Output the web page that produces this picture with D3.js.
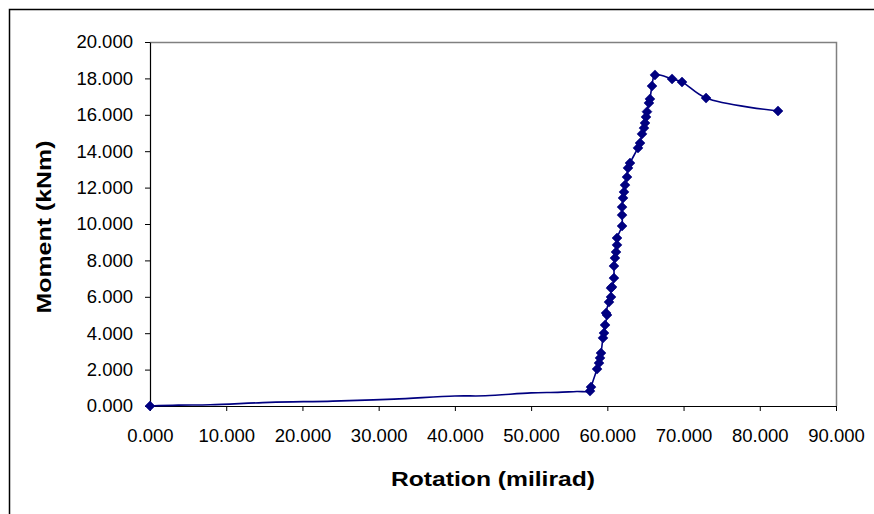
<!DOCTYPE html>
<html lang="en">
<head>
<meta charset="UTF-8">
<style>
  body, html { margin: 0; padding: 0; background: #fff; overflow: hidden; }
  svg { display: block; }
  text { font-family: "Liberation Sans", Arial, sans-serif; fill: #000; }
</style>
</head>
<body>
<svg id="svg" width="874" height="514"></svg>
<script src="https://d3js.org/d3.v7.min.js"></script>
<script>
// loaded points (with markers), rotation in milirad, moment in kNm
const rotation = [0.00, 57.73, 57.86, 58.65, 58.91, 59.04, 59.17, 59.43, 59.56, 59.70, 59.96, 59.83,
  60.22, 60.48, 60.48, 60.61, 60.87, 60.87, 61.00, 61.14, 61.27, 61.27, 61.93, 61.93, 61.93,
  62.06, 62.19, 62.32, 62.58, 62.71, 62.97, 64.02, 64.29, 64.55, 64.81, 64.94, 65.07, 65.20,
  65.46, 65.59, 65.86, 66.25, 68.49, 69.80, 72.95, 82.39]
const moment = [0.000, 0.820, 1.040, 2.030, 2.360, 2.640, 2.910, 3.740, 4.010, 4.450, 5.000, 5.110,
  5.710, 5.990, 6.480, 6.540, 7.030, 7.690, 8.130, 8.460, 8.850, 9.230, 9.890, 10.490, 10.930,
  11.430, 11.760, 12.140, 12.580, 13.080, 13.350, 14.180, 14.450, 14.950, 15.270, 15.550, 15.880, 16.170,
  16.650, 16.870, 17.580, 18.190, 17.970, 17.800, 16.920, 16.210]

// early part of the curve, drawn as line only
const creepRotation = [3.7, 7.9, 15.7, 24.0, 32.0, 40.0, 44.0, 50.0, 53.5, 56.0]
const creepMoment = [0.05, 0.07, 0.20, 0.27, 0.38, 0.55, 0.56, 0.72, 0.75, 0.80]

const xTicks = [0, 10, 20, 30, 40, 50, 60, 70, 80, 90]
const yTicks = [0, 2, 4, 6, 8, 10, 12, 14, 16, 18, 20]

const xTitle = 'Rotation (milirad)'
const yTitle = 'Moment (kNm)'

const color = '#000080'
const svg = d3.select('#svg')

// outer chart frame (runs past the picture on right and bottom)
svg.append('rect')
  .attr('x', 9.5).attr('y', 9.5)
  .attr('width', 1000).attr('height', 1000)
  .attr('fill', 'none').attr('stroke', '#000').attr('stroke-width', 1.5)

const plot = { left: 150, right: 836, top: 42, bottom: 406 }

const xscale = d3.scaleLinear().domain([0, 90]).range([plot.left, plot.right])
const yscale = d3.scaleLinear().domain([0, 20]).range([plot.bottom, plot.top])
const fmt = d3.format('.3f')

// plot area border, gray on top and right
svg.append('path')
  .attr('d', `M${plot.left},${plot.top + 0.5}H${plot.right + 0.5}V${plot.bottom}`)
  .attr('fill', 'none').attr('stroke', '#808080').attr('stroke-width', 1.5)

// bottom axis
const bottomAxis = d3.axisBottom(xscale).tickValues(xTicks).tickFormat(fmt).tickSize(5).tickSizeOuter(0)
const gx = svg.append('g')
  .attr('transform', `translate(0, ${plot.bottom})`)
  .call(bottomAxis)
gx.select('.domain').attr('stroke', '#000').attr('stroke-width', 1.2)
gx.selectAll('.tick line').attr('stroke', '#000')
gx.selectAll('.tick text').attr('y', 23).attr('font-size', 18.5)
  .style('font-family', '"Liberation Sans", Arial, sans-serif')

// left axis
const leftAxis = d3.axisLeft(yscale).tickValues(yTicks).tickFormat(fmt).tickSize(5).tickSizeOuter(0)
const gy = svg.append('g')
  .attr('transform', `translate(${plot.left}, 0)`)
  .call(leftAxis)
gy.select('.domain').attr('stroke', '#000').attr('stroke-width', 1.2)
gy.selectAll('.tick line').attr('stroke', '#000')
gy.selectAll('.tick text').attr('x', -17).attr('font-size', 18.5)
  .style('font-family', '"Liberation Sans", Arial, sans-serif')

// titles
svg.append('text')
  .attr('x', (plot.left + plot.right) / 2).attr('y', 486)
  .attr('text-anchor', 'middle')
  .attr('font-size', 20).attr('font-weight', 'bold')
  .attr('textLength', 204).attr('lengthAdjust', 'spacingAndGlyphs')
  .text(xTitle)

svg.append('text')
  .attr('transform', `translate(51, ${(plot.top + plot.bottom) / 2 + 3}) rotate(-90)`)
  .attr('text-anchor', 'middle')
  .attr('font-size', 20).attr('font-weight', 'bold')
  .attr('textLength', 173).attr('lengthAdjust', 'spacingAndGlyphs')
  .text(yTitle)

// the curve
const marked = rotation.map((r, i) => ({ r: r, m: moment[i] }))
const creep = creepRotation.map((r, i) => ({ r: r, m: creepMoment[i] }))
const linePts = [marked[0]].concat(creep, marked.slice(1))

const line = d3.line()
  .x(d => xscale(d.r))
  .y(d => yscale(d.m))
  .curve(d3.curveCatmullRom.alpha(0.5))

svg.append('path')
  .datum(linePts)
  .attr('d', line)
  .attr('fill', 'none')
  .attr('stroke', color)
  .attr('stroke-width', 1.6)

// diamond markers
const diamond = d3.symbol().type(d3.symbolSquare).size(50)
svg.append('g')
  .selectAll('path')
  .data(marked)
  .enter()
  .append('path')
  .attr('d', diamond)
  .attr('transform', d => `translate(${xscale(d.r)}, ${yscale(d.m)}) rotate(45)`)
  .attr('fill', color)
  .attr('stroke', color)
  .attr('stroke-width', 0.5)
</script>
</body>
</html>
